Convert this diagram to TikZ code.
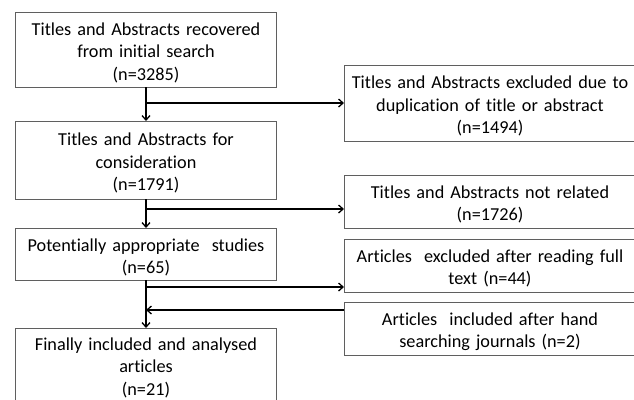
\documentclass[tikz,border=0pt]{standalone}
\usepackage{fontspec}
\setmainfont[Ligatures=NoCommon]{Carlito}
\usetikzlibrary{positioning,arrows.meta}
\definecolor{boxline}{RGB}{95,95,95}
\tikzstyle{box} = [rectangle, draw=boxline, line width=1bp, minimum width=260bp, text width=256bp, align=center, inner sep=0pt, outer sep=0pt, text=black, font=\fontsize{18.3}{22.5}\selectfont]
\tikzstyle{stage} = [box, execute at begin node={\rule{0pt}{19bp}}]
\tikzstyle{laststage} = [box, execute at begin node={\rule{0pt}{14bp}}]
\tikzstyle{side} = [stage, minimum width=292bp, text width=288bp]
\tikzstyle{tedge} = [draw, line width=1.3bp, -{Straight Barb[length=4.5bp,width=8bp]}]

\begin{document}
\begin{tikzpicture}[x=1bp,y=-1bp]
\useasboundingbox (0,0) rectangle (634,399);
\clip (0,0) rectangle (634,399);

% stages =============================
\node[stage, minimum height=75bp] (found) at (146,49.5) {Titles and Abstracts recovered\\from initial search\\(n=3285)};
\node[stage, minimum height=78bp, below=34bp of found] (screen) {Titles and Abstracts for\\consideration\\(n=1791)};
\node[stage, minimum height=52bp, below=29bp of screen] (studies) {Potentially appropriate\ \ studies\\(n=65)};
\node[laststage, minimum height=78bp, below=48bp of studies] (final) {Finally included and analysed\\articles\\(n=21)};

% side boxes
\node[side, minimum height=76bp] (dupl) at (490,103) {Titles and Abstracts excluded due to\\duplication of title or abstract\\(n=1494)};
\node[side, minimum height=53bp] (unrel) at (490,201.5) {Titles and Abstracts not related\\(n=1726)};
\node[side, minimum height=53bp] (fulltext) at (490,265.5) {Articles\ \ excluded after reading full\\text (n=44)};
\node[side, minimum height=53bp] (hand) at (490,328.5) {Articles\ \ included after hand\\searching journals (n=2)};

% junctions on the trunk
\coordinate (j1) at (found.south |- dupl.west);
\coordinate (j2) at (146,209);
\coordinate (j3) at (146,287);
\coordinate (j4) at (146,310);

% edges
\path[tedge] (found) -- (screen);
\path[tedge] (screen) -- (studies);
\path[tedge] (studies) -- (final);
\path[tedge] (j1) -- (dupl.west |- j1);
\path[tedge] (j2) -- (unrel.west |- j2);
\path[tedge] (j3) -- (fulltext.west |- j3);
\path[tedge] (hand.west |- j4) -- (j4);

\end{tikzpicture}
\end{document}
